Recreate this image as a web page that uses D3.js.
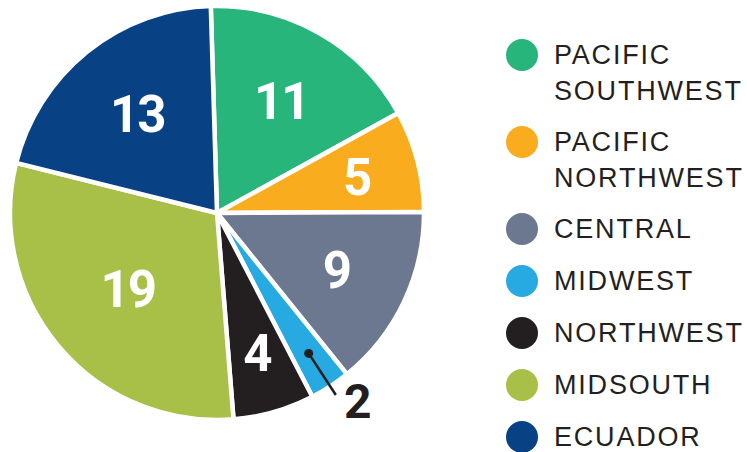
<!DOCTYPE html>
<html>
<head>
<meta charset="utf-8">
<script src="https://cdn.jsdelivr.net/npm/d3@7"></script>
<style>
  body { margin: 0; background: #fff; }
  svg { display: block; }
</style>
</head>
<body>
<div id="chart"></div>
<script>
// regions and counts, clockwise from 12 o'clock
const regions = ["Pacific Southwest", "Pacific Northwest", "Central", "Midwest", "Northwest", "Midsouth", "Ecuador"];
const counts = [11, 5, 9, 2, 4, 19, 13];
const legendLines = [["PACIFIC", "SOUTHWEST"], ["PACIFIC", "NORTHWEST"], ["CENTRAL"], ["MIDWEST"], ["NORTHWEST"], ["MIDSOUTH"], ["ECUADOR"]];
const colors = ["#27b57b", "#f9ac1e", "#6b788f", "#27a9e1", "#231f20", "#a8c047", "#084284"];
// slices too thin for an inside label get a callout
const calloutRegions = ["Midwest"];

let width = 747;
let height = 452;
let cx = 217;
let cy = 213;
let radius = 207;
let rotation = -0.03;

let svg = d3.select("#chart").append("svg")
  .attr("width", width)
  .attr("height", height);

let color = d3.scaleOrdinal().domain(regions).range(colors);

let data = regions.map((r, i) => ({ region: r, value: counts[i] }));

let pie = d3.pie()
  .value(d => d.value)
  .sort(null)
  .startAngle(rotation)
  .endAngle(rotation + 2 * Math.PI);

let arc = d3.arc()
  .innerRadius(0)
  .outerRadius(radius);

let arcs = pie(data);

let g = svg.append("g")
  .attr("transform", `translate(${cx},${cy})`);

g.selectAll("path")
  .data(arcs)
  .enter()
  .append("path")
  .attr("d", arc)
  .attr("fill", d => color(d.data.region))
  .attr("stroke", "#fff")
  .attr("stroke-width", 4.5)
  .attr("stroke-linejoin", "miter");

// polar helper, angle measured clockwise from 12 o'clock
function polar(angle, r) {
  return [Math.sin(angle) * r, -Math.cos(angle) * r];
}

let midA = d => (d.startAngle + d.endAngle) / 2;

// area centroid of a sector, nudged outward for narrow slices
function labelPos(d) {
  let theta = d.endAngle - d.startAngle;
  let r = 4 * (radius - 2) * Math.sin(theta / 2) / (3 * theta);
  if (d.value < 6) r += 9;
  return polar(midA(d), r);
}

let inside = arcs.filter(d => calloutRegions.indexOf(d.data.region) < 0);
let outside = arcs.filter(d => calloutRegions.indexOf(d.data.region) >= 0);

g.selectAll("text.inlabel")
  .data(inside)
  .enter()
  .append("text")
  .attr("class", "inlabel")
  .attr("x", d => labelPos(d)[0])
  .attr("y", d => labelPos(d)[1])
  .attr("dy", "0.36em")
  .attr("text-anchor", "middle")
  .style("font-family", "Roboto, 'Liberation Sans', sans-serif")
  .style("font-weight", "700")
  .style("font-size", "51px")
  .style("letter-spacing", "-2px")
  .attr("fill", "#fff")
  .text(d => d.value);

// callout for thin slice
let callout = g.selectAll("g.callout")
  .data(outside)
  .enter()
  .append("g")
  .attr("class", "callout");

callout.append("line")
  .attr("x1", d => polar(midA(d), radius * 0.81)[0])
  .attr("y1", d => polar(midA(d), radius * 0.81)[1])
  .attr("x2", d => polar(midA(d), radius * 1.05)[0])
  .attr("y2", d => polar(midA(d), radius * 1.05)[1])
  .attr("stroke", "#231f20")
  .attr("stroke-width", 2.5);

callout.append("circle")
  .attr("cx", d => polar(midA(d), radius * 0.81)[0])
  .attr("cy", d => polar(midA(d), radius * 0.81)[1])
  .attr("r", 4.5)
  .attr("fill", "#231f20");

callout.append("text")
  .attr("x", d => polar(midA(d), radius * 1.05)[0] + 22)
  .attr("y", d => polar(midA(d), radius * 1.05)[1] + 23)
  .attr("text-anchor", "middle")
  .style("font-family", "Roboto, 'Liberation Sans', sans-serif")
  .style("font-weight", "700")
  .style("font-size", "48px")
  .attr("fill", "#231f20")
  .text(d => d.value);

// legend
let legend = svg.append("g").attr("class", "legend");
let ly = 55;
let lineGap = 36.7;
let itemGap = 52;

regions.forEach((r, i) => {
  let item = legend.append("g").attr("transform", `translate(0,${ly})`);
  item.append("circle")
    .attr("cx", 522)
    .attr("cy", 0)
    .attr("r", 16)
    .attr("fill", color(r));
  item.selectAll("text")
    .data(legendLines[i])
    .enter()
    .append("text")
    .attr("x", 554)
    .attr("y", (t, j) => 8.5 + j * lineGap)
    .style("font-family", "'Liberation Sans', Arial, sans-serif")
    .style("font-size", "27px")
    .style("letter-spacing", "1.8px")
    .attr("fill", "#231f20")
    .text(t => t);
  ly += itemGap + (legendLines[i].length - 1) * 35;
});
</script>
</body>
</html>
